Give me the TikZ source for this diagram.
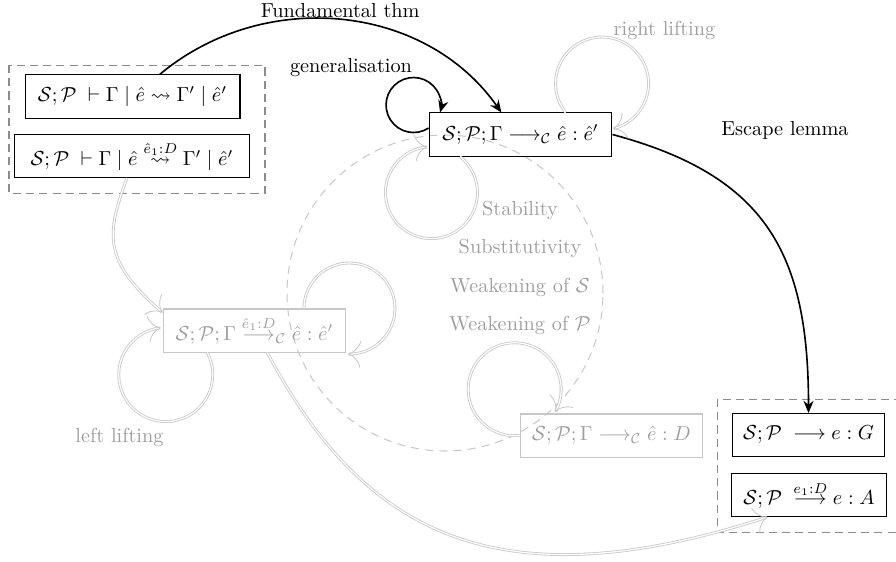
\documentclass[tikz,border=0pt]{standalone}
\usepackage{amsmath,amssymb}
\usetikzlibrary{arrows.meta}
\definecolor{pale}{gray}{0.78}
\definecolor{paletext}{gray}{0.62}
\definecolor{grpgray}{gray}{0.55}
\begin{document}
\begin{tikzpicture}[x=0.4926pt,y=0.4926pt,
  box/.style={draw=black, line width=0.5pt, minimum height=21.2pt, inner sep=3.33pt},
  gbox/.style={draw=pale, text=paletext, line width=0.5pt, minimum height=21.2pt, inner sep=3.33pt},
  grp/.style={draw=grpgray, dash pattern=on 4pt off 2.5pt, line width=0.5pt},
  circ/.style={draw=pale, dash pattern=on 4pt off 3pt, line width=0.5pt},
  main/.style={thick, -{Stealth[length=6pt,width=5pt]}},
  lift/.style={draw=pale, double, double distance=0.6pt, line width=0.4pt, -{To[scale=1.35]}},
  glabel/.style={text=paletext},
]
\useasboundingbox (0,0) rectangle (896,-561);

\draw[circ] (445,-293) circle (158);

\node[box, minimum width=105.9pt] (A) at (132.5,-96.5) {$\mathcal{S};\mathcal{P}\;\vdash\Gamma\mid\hat e\leadsto\Gamma'\mid\hat e'$};
\node[box, minimum width=115.8pt] (B) at (132,-156) {$\mathcal{S};\mathcal{P}\;\vdash\Gamma\mid\hat e\stackrel{\hat e_1:D}{\leadsto}\Gamma'\mid\hat e'$};
\node[box, minimum width=90.1pt] (C) at (520.5,-134.5) {$\mathcal{S};\mathcal{P};\Gamma\longrightarrow_{\mathcal{C}}\hat e:\hat e'$};
\node[gbox, minimum width=90.1pt] (L) at (254.5,-330.5) {$\mathcal{S};\mathcal{P};\Gamma\stackrel{\hat e_1:D}{\longrightarrow}_{\mathcal{C}}\hat e:\hat e'$};
\node[gbox, minimum width=90.1pt] (D) at (611.5,-435.5) {$\mathcal{S};\mathcal{P};\Gamma\longrightarrow_{\mathcal{C}}\hat e:D$};
\node[box, minimum width=74.4pt] (G) at (808.5,-435) {$\mathcal{S};\mathcal{P}\;\longrightarrow e:G$};
\node[box, minimum width=76.8pt] (A2) at (809,-495) {$\mathcal{S};\mathcal{P}\;\stackrel{e_1:D}{\longrightarrow} e:A$};

\draw[grp] (9,-65) rectangle (265,-193);
\draw[grp] (717,-399) rectangle (901,-532);

% black edges
\draw[main] (A.39) to[out=40,in=125] node[midway, anchor=base, yshift=1pt] {Fundamental thm} (C.131);
\draw[main] (C.176) arc[start angle=-57, end angle=-375.8, radius=27.5];
\node (gen) at (351,-68) {generalisation};
\draw[main] (C.east) to[out=-15,in=90,looseness=1.2] (G.north);
\node (esc) at (785,-130) {Escape lemma};

% gray edges
\draw[lift] (C.26) arc[start angle=218.5, end angle=-76.3, radius=46.5];
\node[glabel] (rl) at (664.5,-30) {right lifting};
\draw[lift] (C.200) arc[start angle=51.7, end angle=-265, radius=46];
\draw[lift] (L.24) arc[start angle=180, end angle=-92, radius=45.5];
\draw[lift] (L.205) arc[start angle=28, end angle=-264, radius=47];
\node[glabel] (ll) at (119.5,-437) {left lifting};
\draw[lift] (B.257) .. controls +(250:60) and +(139:80) .. (L.169);
\draw[lift] (L.300) .. controls +(-62:200) and +(198:290) .. (A2.208);
\draw[lift] (D.west) arc[start angle=-84, end angle=-389.2, radius=46.5];

\node[glabel] (s1) at (520,-210) {Stability};
\node[glabel] (s2) at (520,-248) {Substitutivity};
\node[glabel] (s3) at (520,-287) {Weakening of $\mathcal{S}$};
\node[glabel] (s4) at (520,-325) {Weakening of $\mathcal{P}$};
\end{tikzpicture}
\end{document}
